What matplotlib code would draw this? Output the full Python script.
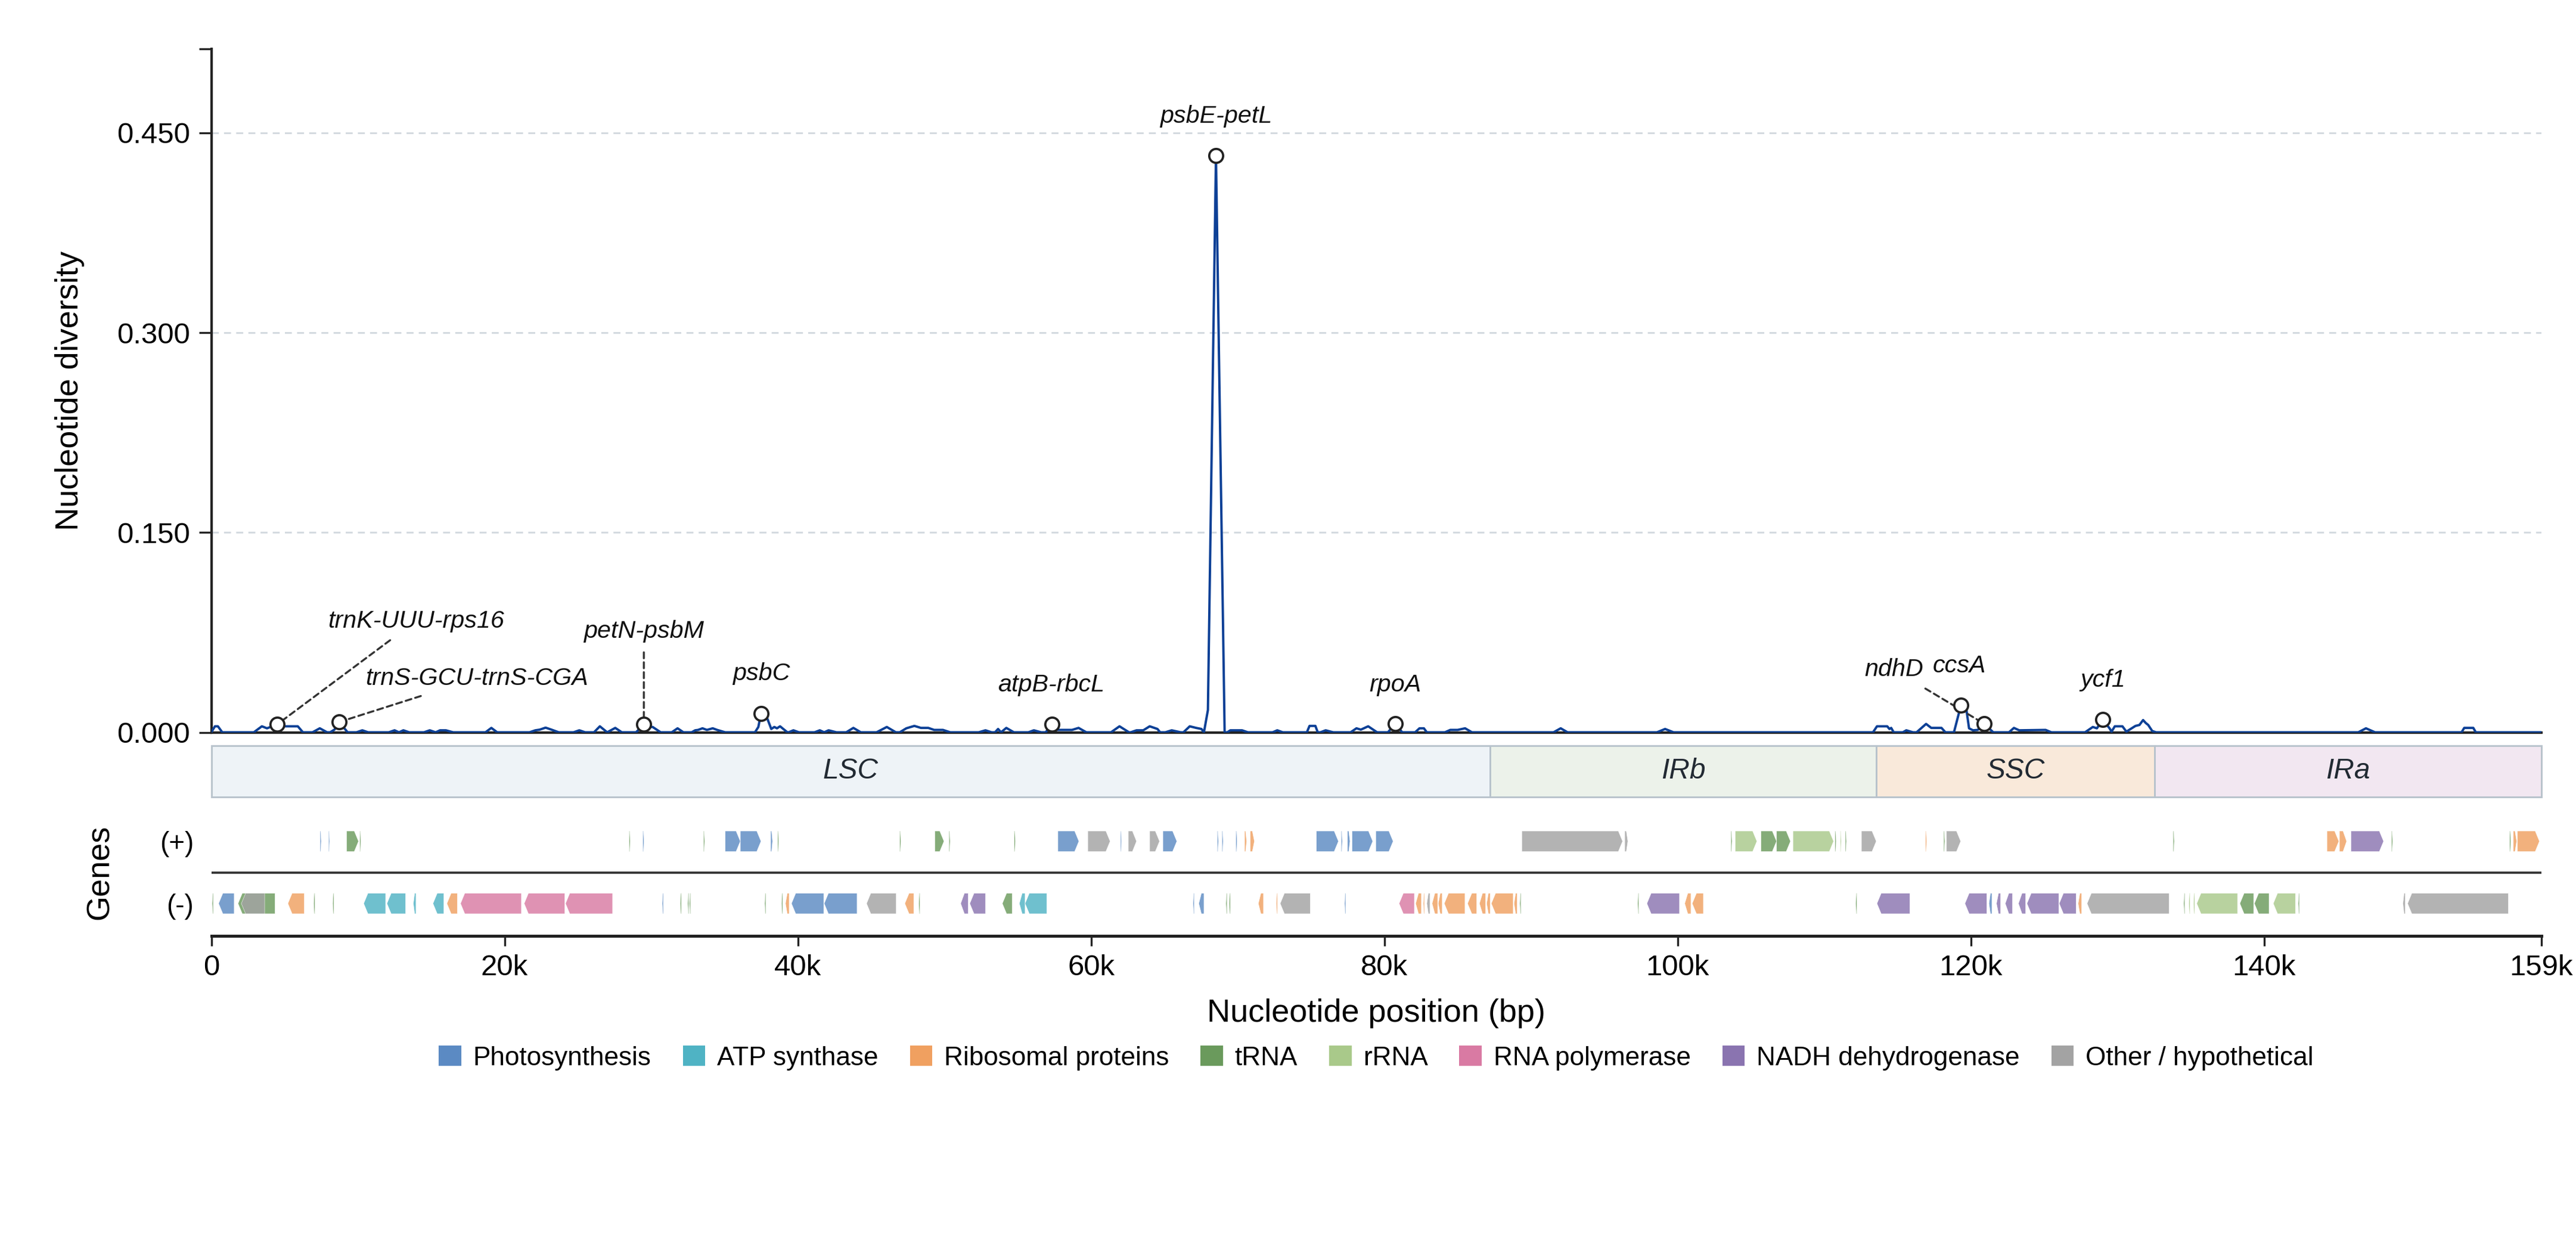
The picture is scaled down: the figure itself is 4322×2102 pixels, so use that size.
import numpy as np
import matplotlib
matplotlib.use("Agg")
import matplotlib.pyplot as plt
from matplotlib.patches import Polygon, Rectangle, Patch

plt.rcParams["font.family"] = ["Liberation Sans", "DejaVu Sans"]

GENOME_LEN = 158900

# quadripartite structure
region_names = ["LSC", "IRb", "SSC", "IRa"]
region_starts = [0, 87230, 113570, 132520]
region_ends = [87230, 113570, 132520, 158900]
region_colors = ["#eef3f7", "#ecf2ea", "#f9e9da", "#f2e7f1"]

# sliding-window Pi, vertices of the curve (position in kb, value)
pi_pos_kb = [
    0.0, 0.25, 0.45, 0.75,
    2.9, 3.45, 3.8, 4.5, 5.0, 5.9, 6.25,
    6.9, 7.4, 7.9,
    8.1, 8.4, 8.72, 9.3,
    9.9, 10.3, 10.7,
    12.1, 12.5, 12.8, 13.1, 13.5,
    14.5, 14.9, 15.3, 15.6, 16.0, 16.5,
    18.7, 19.1, 19.5,
    21.7, 22.1, 22.4, 22.8, 23.2, 23.7,
    24.7, 25.1, 25.5,
    26.1, 26.5, 27.0, 27.55, 28.0,
    28.97, 29.5, 29.8, 30.1, 30.65,
    31.4, 31.8, 32.2,
    32.76, 33.0, 33.2, 33.5, 33.8, 34.2, 34.5, 35.05,
    37.08, 37.31, 37.49, 37.88, 38.19, 38.4, 38.58, 38.79, 39.29,
    39.37, 39.7, 40.08,
    41.14, 41.5, 41.8, 42.1, 42.64,
    43.3, 43.79, 44.3,
    45.37, 46.07, 46.69,
    46.95, 47.4, 47.95, 48.4, 48.9, 49.3, 49.9, 50.4,
    52.33, 52.8, 53.22,
    53.45, 53.66, 53.86, 54.22, 54.74,
    55.72, 56.1, 56.6,
    56.9, 57.35, 57.6, 58.7, 59.15, 59.68,
    61.36, 61.94, 62.59,
    62.7, 63.1, 63.56, 64.0, 64.53, 64.71,
    65.06, 65.5, 66.12,
    66.3, 66.73, 67.17, 67.53, 67.7,
    67.97, 68.52, 69.11,
    69.29, 69.5, 70.3, 70.7,
    72.38, 72.7, 73.08,
    74.72, 74.9, 75.3, 75.46,
    75.64, 76.0, 76.52,
    77.7, 78.1, 78.4, 78.9, 79.51,
    80.25, 80.75, 81.22,
    82.1, 82.4, 82.7, 82.9,
    84.13, 84.5, 85.0, 85.51, 85.98,
    91.54, 92.03, 92.5,
    98.59, 99.15, 99.73,
    113.33, 113.6, 114.3, 114.45, 114.57, 114.74,
    115.36, 115.6, 116.06,
    116.3, 116.95, 117.3, 118.0, 118.27,
    118.85, 119.33, 119.7, 119.88, 120.15, 120.47, 120.93, 121.53,
    122.6, 122.94, 123.3, 125.1, 125.5,
    127.79, 128.32, 128.6, 129.0, 129.46, 129.6, 129.82, 130.34,
    130.61, 131.23, 131.5, 131.75, 131.93, 132.1, 132.37, 132.64,
    146.42, 146.95, 147.57,
    153.47, 153.65, 154.27, 154.44,
    158.9,
]
pi_val = [
    0.0, 0.0045, 0.0045, 0.0,
    0.0, 0.0045, 0.003, 0.006, 0.0045, 0.0045, 0.0,
    0.0, 0.003, 0.0,
    0.0, 0.002, 0.0077, 0.0,
    0.0, 0.0015, 0.0,
    0.0, 0.0015, 0.0, 0.0015, 0.0,
    0.0, 0.0015, 0.0, 0.0015, 0.0015, 0.0,
    0.0, 0.0033, 0.0,
    0.0, 0.0015, 0.002, 0.0035, 0.002, 0.0,
    0.0, 0.0015, 0.0,
    0.0, 0.0045, 0.0, 0.0033, 0.0,
    0.0, 0.006, 0.004, 0.004, 0.0,
    0.0, 0.003, 0.0,
    0.0, 0.0015, 0.0018, 0.003, 0.0018, 0.003, 0.0018, 0.0,
    0.0, 0.004, 0.014, 0.0115, 0.0025, 0.004, 0.003, 0.0045, 0.0,
    0.0, 0.0015, 0.0,
    0.0, 0.0015, 0.0, 0.0015, 0.0,
    0.0, 0.0033, 0.0,
    0.0, 0.004, 0.0,
    0.0, 0.003, 0.0048, 0.0033, 0.0033, 0.0018, 0.0018, 0.0,
    0.0, 0.0015, 0.0,
    0.0, 0.0025, 0.0, 0.0033, 0.0,
    0.0, 0.0015, 0.0,
    0.0, 0.006, 0.0018, 0.0018, 0.0033, 0.0,
    0.0, 0.0045, 0.0,
    0.0, 0.0015, 0.0015, 0.0045, 0.0025, 0.0,
    0.0, 0.0015, 0.0,
    0.0, 0.0045, 0.0033, 0.0025, 0.0,
    0.0167, 0.433, 0.0,
    0.0, 0.0015, 0.0015, 0.0,
    0.0, 0.0015, 0.0,
    0.0, 0.0048, 0.0048, 0.0,
    0.0, 0.0015, 0.0,
    0.0, 0.003, 0.002, 0.0045, 0.0,
    0.0, 0.0066, 0.0,
    0.0, 0.003, 0.003, 0.0,
    0.0, 0.0018, 0.0018, 0.003, 0.0,
    0.0, 0.003, 0.0,
    0.0, 0.0025, 0.0,
    0.0, 0.0045, 0.0045, 0.0025, 0.0033, 0.0,
    0.0, 0.0015, 0.0,
    0.0, 0.0063, 0.0033, 0.0033, 0.0,
    0.0, 0.0204, 0.017, 0.003, 0.0015, 0.0018, 0.0063, 0.0,
    0.0, 0.0033, 0.0015, 0.0018, 0.0,
    0.0, 0.004, 0.003, 0.0095, 0.003, 0.0005, 0.0045, 0.0045,
    0.0005, 0.0048, 0.0055, 0.0092, 0.007, 0.0055, 0.001, 0.0,
    0.0, 0.003, 0.0,
    0.0, 0.0033, 0.0033, 0.0,
    0.0,
]

# divergence hotspots (kb position on the curve)
hotspot_names = ["trnK-UUU-rps16", "trnS-GCU-trnS-CGA", "petN-psbM", "psbC",
                 "atpB-rbcL", "psbE-petL", "rpoA", "ndhD", "ccsA", "ycf1"]
hotspot_kb = [4.5, 8.72, 29.5, 37.49, 57.35, 68.52, 80.75, 120.93, 119.33, 129.0]
# label placement (kb, y) and whether a leader line is drawn
label_xy = [(13.96, 0.0836), (18.1, 0.0406), (29.5, 0.076), (37.49, 0.044),
            (57.3, 0.0357), (68.52, 0.4625), (80.75, 0.0357), (114.75, 0.047),
            (119.2, 0.050), (129.0, 0.039)]
label_leader = [True, True, True, False, False, False, False, True, False, False]

# gene categories
categories = ["Photosynthesis", "ATP synthase", "Ribosomal proteins", "tRNA",
              "rRNA", "RNA polymerase", "NADH dehydrogenase", "Other / hypothetical"]
cat_colors = ["#5b8ac3", "#4fb3c4", "#f0a060", "#6a9a5c",
              "#a9c98a", "#d97aa3", "#8a74b0", "#a3a3a3"]
# P=photosynthesis A=ATP R=ribosomal T=tRNA r=rRNA Pol=RNA pol N=NADH O=other
cat_keys = ["P", "A", "R", "T", "r", "Pol", "N", "O"]

genes_plus = [
    (7420, 7500, "P"), (8000, 8070, "P"), (9230, 10040, "T"), (10130, 10200, "T"),
    (28500, 28570, "T"), (29430, 29510, "P"), (33570, 33650, "T"),
    (35050, 36080, "P"), (36080, 37490, "P"), (38150, 38280, "P"), (38630, 38700, "T"),
    (46950, 47030, "T"), (49350, 49970, "T"), (50310, 50390, "T"), (54760, 54840, "T"),
    (57740, 59170, "P"), (59780, 61300, "O"), (62010, 62080, "P"), (62540, 63100, "O"),
    (64000, 64670, "O"), (64900, 65850, "P"), (68610, 68690, "P"), (68930, 69010, "P"),
    (69880, 69960, "P"), (70470, 70610, "R"), (70860, 71140, "R"),
    (75370, 76870, "P"), (77060, 77140, "P"), (77490, 77660, "P"), (77800, 79210, "P"),
    (79420, 80600, "P"), (89380, 96250, "O"), (96400, 96610, "O"),
    (103640, 103720, "T"), (103930, 105410, "r"), (105690, 106750, "T"),
    (106750, 107700, "T"), (107870, 110640, "r"), (110740, 110820, "T"),
    (111100, 111160, "r"), (111440, 111520, "T"), (112540, 113550, "O"),
    (116910, 116990, "R"), (118150, 118230, "T"), (118340, 119310, "O"),
    (133800, 133880, "T"), (144290, 145100, "R"), (145140, 145630, "R"),
    (145930, 148150, "N"), (148690, 148770, "T"), (156750, 156830, "T"),
    (157000, 157230, "R"), (157280, 158780, "R"),
]
genes_minus = [
    (60, 140, "T"), (500, 1560, "P"), (1825, 4345, "T"), (2050, 3640, "O"),
    (5225, 6340, "R"), (6985, 7065, "T"), (8280, 8360, "T"),
    (10395, 11890, "A"), (11980, 13250, "A"), (13780, 13960, "A"), (15120, 15860, "A"),
    (16070, 16780, "R"), (17000, 21150, "Pol"), (21340, 24110, "Pol"), (24160, 27370, "Pol"),
    (30750, 30830, "P"), (31980, 32060, "T"), (32490, 32570, "T"), (32610, 32690, "T"),
    (37740, 37820, "T"), (38890, 38970, "T"), (39160, 39410, "R"),
    (39570, 41770, "P"), (41800, 44040, "P"), (44690, 46710, "O"), (47300, 47910, "R"),
    (48250, 48330, "T"), (51110, 51620, "N"), (51730, 52800, "N"), (53950, 54620, "T"),
    (55110, 55500, "A"), (55500, 56980, "A"), (66960, 67040, "P"), (67350, 67700, "P"),
    (69200, 69280, "T"), (69420, 69500, "T"), (71410, 71760, "R"), (72630, 72710, "R"),
    (72900, 74950, "O"), (77290, 77370, "P"), (81010, 82050, "Pol"),
    (82140, 82530, "R"), (82660, 82740, "R"), (82900, 83110, "O"), (83260, 83640, "R"),
    (83680, 83950, "R"), (84090, 85500, "R"), (85680, 86300, "R"), (86490, 86910, "R"),
    (86980, 87220, "R"), (87300, 88790, "R"), (88850, 89060, "R"), (89240, 89320, "T"),
    (97280, 97360, "T"), (97910, 100130, "N"), (100490, 100910, "R"), (101000, 101760, "R"),
    (112150, 112230, "T"), (113600, 115840, "N"), (119600, 121090, "N"),
    (121240, 121440, "P"), (121750, 122030, "N"), (122350, 122840, "N"),
    (123250, 123740, "N"), (123830, 126000, "N"), (126030, 127180, "N"),
    (127320, 127560, "R"), (127930, 133520, "O"), (134520, 134600, "T"),
    (134870, 134950, "r"), (135190, 135270, "r"), (135410, 138190, "r"),
    (138350, 139290, "T"), (139340, 140340, "T"), (140630, 142140, "r"),
    (142330, 142410, "T"), (149470, 149630, "O"), (149790, 156660, "O"),
]

color_of = dict(zip(cat_keys, cat_colors))
LINE_COLOR = "#0d4096"
GENE_H = 0.33
HEAD_BP = 290
TICK_FS = 11.8
LABEL_FS = 13
NOTE_FS = 9.9

W, H = 4322, 2102
fig = plt.figure(figsize=(W / 300, H / 300), dpi=300)
left = 354.5 / W
width = (4263.6 - 354.5) / W


def fig_box(top_px, bottom_px):
    return [left, 1 - bottom_px / H, width, (bottom_px - top_px) / H]


ax_pi = fig.add_axes(fig_box(82, 1228.5))
ax_reg = fig.add_axes(fig_box(1251, 1337))
ax_gene = fig.add_axes(fig_box(1357, 1570))

# ---- nucleotide diversity panel
pos_bp = np.array(pi_pos_kb) * 1000
vals = np.array(pi_val)
ax_pi.plot(pos_bp, vals, color=LINE_COLOR, lw=0.95, zorder=3)

for name, kb, (lx, ly), lead in zip(hotspot_names, hotspot_kb, label_xy, label_leader):
    v = pi_val[pi_pos_kb.index(kb)]
    ax_pi.plot(kb * 1000, v, "o", ms=5.6, mfc="white", mec="#222222", mew=0.9, zorder=5)
    if lead:
        ax_pi.annotate(name, xy=(kb * 1000, v), xytext=(lx * 1000, ly),
                       ha="center", va="center", fontsize=NOTE_FS, style="italic",
                       color="#111111", zorder=4,
                       arrowprops=dict(arrowstyle="-", linestyle=(0, (3, 2)), lw=0.8,
                                       color="#333333", shrinkA=2, shrinkB=3.2))
    else:
        ax_pi.text(lx * 1000, ly, name, ha="center", va="center", fontsize=NOTE_FS,
                   style="italic", color="#111111", zorder=4)

ax_pi.set_xlim(0, GENOME_LEN)
ax_pi.set_ylim(0, 0.513)
ax_pi.set_yticks([0, 0.15, 0.30, 0.45])
ax_pi.set_yticklabels(["0.000", "0.150", "0.300", "0.450"])
ax_pi.set_yticks([0.513], minor=True)
ax_pi.tick_params(axis="y", which="both", length=5, width=0.8, color="#222222",
                  labelsize=TICK_FS)
ax_pi.tick_params(axis="x", bottom=False, labelbottom=False)
ax_pi.yaxis.grid(True, which="major", linestyle=(0, (4, 3)), color="#d3d9df", lw=0.7)
ax_pi.set_axisbelow(True)
for s in ["top", "right"]:
    ax_pi.spines[s].set_visible(False)
for s in ["left", "bottom"]:
    ax_pi.spines[s].set_linewidth(1.0)
    ax_pi.spines[s].set_color("#222222")
ax_pi.set_ylabel("Nucleotide diversity", fontsize=LABEL_FS, labelpad=13)

# ---- region band
for name, s, e, c in zip(region_names, region_starts, region_ends, region_colors):
    ax_reg.add_patch(Rectangle((s, 0), e - s, 1, facecolor=c, edgecolor="#b8c3cc",
                               lw=0.7, clip_on=False))
    ax_reg.text((s + e) / 2, 0.5, name, ha="center", va="center", fontsize=11.5,
                style="italic", color="#222a33")
ax_reg.set_xlim(0, GENOME_LEN)
ax_reg.set_ylim(0, 1)
ax_reg.axis("off")


# ---- gene tracks
def draw_gene(ax, start, end, strand, color):
    yc = 0.5 if strand > 0 else -0.5
    h = GENE_H / 2
    head = min(HEAD_BP, 0.5 * (end - start))
    if strand > 0:
        xs = [start, end - head, end, end - head, start]
    else:
        xs = [end, start + head, start, start + head, end]
    ys = [yc - h, yc - h, yc, yc + h, yc + h]
    ax.add_patch(Polygon(np.column_stack([xs, ys]), closed=True, facecolor=color,
                         edgecolor="white", lw=0.15, alpha=0.82))


for s, e, k in genes_plus:
    draw_gene(ax_gene, s, e, 1, color_of[k])
for s, e, k in genes_minus:
    draw_gene(ax_gene, s, e, -1, color_of[k])

ax_gene.axhline(0, color="#333333", lw=0.9)
ax_gene.set_xlim(0, GENOME_LEN)
ax_gene.set_ylim(-1.02, 1.02)
ax_gene.set_yticks([0.5, -0.5])
ax_gene.set_yticklabels(["(+)", "(-)"])
ax_gene.tick_params(axis="y", length=0, pad=7, labelsize=11)
xt = [0, 20000, 40000, 60000, 80000, 100000, 120000, 140000, GENOME_LEN]
ax_gene.set_xticks(xt)
ax_gene.set_xticklabels(["0" if t == 0 else f"{t / 1000:.0f}k" for t in xt])
ax_gene.tick_params(axis="x", length=4, width=0.8, color="#222222", labelsize=TICK_FS)
for s in ["top", "right", "left"]:
    ax_gene.spines[s].set_visible(False)
ax_gene.spines["bottom"].set_linewidth(1.2)
ax_gene.spines["bottom"].set_color("#222222")
ax_gene.set_ylabel("Genes", fontsize=LABEL_FS, labelpad=18)
ax_gene.set_xlabel("Nucleotide position (bp)", fontsize=LABEL_FS, labelpad=7)

# ---- legend
handles = [Patch(facecolor=c, edgecolor="none") for c in cat_colors]
fig.legend(handles, categories, loc="center", bbox_to_anchor=(left + width / 2, 1 - 1775 / H),
           ncol=8, frameon=False, fontsize=10.6, handlelength=0.85, handleheight=0.8,
           handletextpad=0.45, columnspacing=1.2)

fig.savefig("out.png", dpi=300)
